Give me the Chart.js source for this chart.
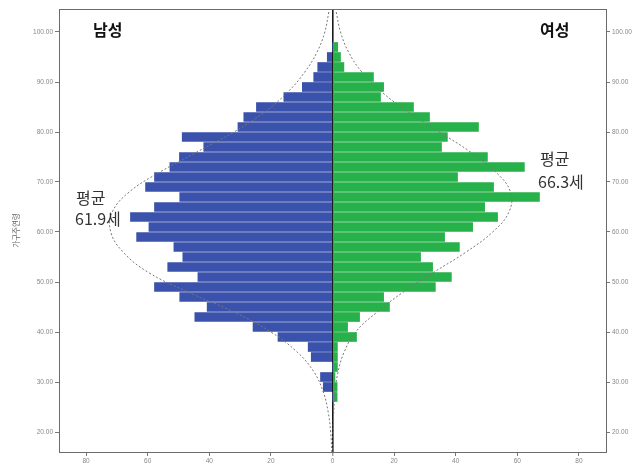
<!DOCTYPE html>
<html>
<head>
<meta charset="utf-8">
<script src="https://cdn.jsdelivr.net/npm/chart.js@4/dist/chart.umd.min.js"></script>
<style>
  html, body { margin: 0; padding: 0; background: #fff; }
</style>
</head>
<body>
<canvas id="pyramid" width="632" height="468"></canvas>
<script>
// 2-year age bins (bin centres), top to bottom
const ageBins = [97, 95, 93, 91, 89, 87, 85, 83, 81, 79, 77, 75, 73, 71, 69, 67, 65, 63,
  61, 59, 57, 55, 53, 51, 49, 47, 45, 43, 41, 39, 37, 35, 33, 31, 29, 27];
const maleCounts = [0, 1.7, 4.8, 6.1, 9.8, 15.8, 24.7, 28.8, 30.7, 48.8, 41.8, 49.7, 52.8, 57.8, 60.7, 49.6, 57.8, 65.6,
  59.6, 63.6, 51.5, 48.6, 53.5, 43.7, 57.8, 49.6, 40.7, 44.7, 25.8, 17.7, 7.9, 6.9, 0, 3.9, 3.0, 0];
const femaleCounts = [1.7, 2.6, 3.7, 13.3, 16.6, 15.6, 26.3, 31.5, 47.4, 37.3, 35.4, 50.3, 62.3, 40.6, 52.3, 67.2, 49.4, 53.6,
  45.5, 36.4, 41.2, 28.6, 32.5, 38.6, 33.4, 16.6, 18.5, 8.8, 4.9, 7.8, 1.6, 1.6, 1.6, 0.8, 1.5, 1.5];

// dotted normal curves
const curveAges = [104, 100, 96, 92, 88, 84, 80, 76, 72, 68, 64, 60, 56, 52, 48, 44, 40, 36, 32, 28, 24, 20, 16];
const maleCurve = [1.2, 2.5, 5, 9, 14.5, 22, 32, 44, 56, 66, 71.5, 72, 68, 60, 47, 32, 20, 11.5, 6, 3, 1.4, 0.6, 0.2];
const femaleCurve = [1.2, 2.6, 5.2, 9.5, 16, 24.6, 34.7, 44.8, 53, 57.8, 57.3, 52, 43.4, 33, 23, 14.5, 7.5, 3.8, 1.8, 0.8, 0.4, 0.15, 0.05];

const xTickValues = [-80, -60, -40, -20, 0, 20, 40, 60, 80];
const yTickValues = [20, 30, 40, 50, 60, 70, 80, 90, 100];

const sideLabels = ['남성', '여성'];
const maleMeanText = ['평균', '61.9세'];
const femaleMeanText = ['평균', '66.3세'];

const tickFont = { family: 'Liberation Sans', size: 6.5 };
const frameColor = '#6b6b6b';

const pyramidLabels = {
  id: 'pyramidLabels',
  afterDraw(chart) {
    const { ctx, chartArea } = chart;
    ctx.save();
    ctx.textBaseline = 'middle';
    ctx.fillStyle = '#111';
    ctx.font = 'bold 16px "Noto Sans CJK KR"';
    ctx.fillText(sideLabels[0], chartArea.left + 34, chartArea.top + 21);
    ctx.fillText(sideLabels[1], chartArea.right - 66, chartArea.top + 21);

    ctx.fillStyle = '#333';
    ctx.font = '16px "Noto Sans CJK KR"';
    ctx.fillText(maleMeanText[0], 76, 198);
    ctx.fillText(maleMeanText[1], 75, 219);
    ctx.fillText(femaleMeanText[0], 540, 159);
    ctx.fillText(femaleMeanText[1], 538, 182);
    ctx.restore();
  },
};

const ctx = document.getElementById('pyramid');

new Chart(ctx, {
  data: {
    datasets: [
      {
        type: 'line',
        label: 'male curve',
        data: curveAges.map((age, i) => ({ x: -maleCurve[i], y: age })),
        borderColor: '#777',
        borderWidth: 1,
        borderDash: [2, 2],
        pointRadius: 0,
        tension: 0.4,
        fill: false,
        order: 0,
      },
      {
        type: 'line',
        label: 'female curve',
        data: curveAges.map((age, i) => ({ x: femaleCurve[i], y: age })),
        borderColor: '#777',
        borderWidth: 1,
        borderDash: [2, 2],
        pointRadius: 0,
        tension: 0.4,
        fill: false,
        order: 0,
      },
      {
        type: 'bar',
        label: '남성',
        data: ageBins.map((age, i) => ({ x: -maleCounts[i], y: age })),
        backgroundColor: '#3b52ac',
        barThickness: 9,
        grouped: false,
        order: 1,
      },
      {
        type: 'bar',
        label: '여성',
        data: ageBins.map((age, i) => ({ x: femaleCounts[i], y: age })),
        backgroundColor: '#27b14a',
        barThickness: 9,
        grouped: false,
        order: 1,
      },
    ],
  },
  options: {
    indexAxis: 'y',
    responsive: false,
    animation: false,
    layout: { padding: { top: 9, left: 0, right: 0, bottom: 0 } },
    plugins: {
      legend: { display: false },
      tooltip: { enabled: false },
    },
    scales: {
      x: {
        type: 'linear',
        position: 'bottom',
        min: -88.8,
        max: 88.8,
        z: 1,
        afterBuildTicks: (scale) => { scale.ticks = xTickValues.map((v) => ({ value: v })); },
        afterFit: (scale) => { scale.height = 16; },
        ticks: {
          callback: (v) => Math.abs(v),
          font: tickFont,
          color: '#888',
          padding: 1,
          maxRotation: 0,
          autoSkip: false,
        },
        grid: {
          drawOnChartArea: true,
          color: (c) => (c.tick && c.tick.value === 0 ? '#1a1a1a' : 'rgba(0,0,0,0)'),
          lineWidth: (c) => (c.tick && c.tick.value === 0 ? 1.6 : 1),
          tickColor: '#777',
          tickLength: 4,
          tickWidth: 1,
        },
        border: { color: frameColor, width: 1 },
      },
      xTop: {
        type: 'linear',
        position: 'top',
        min: -88.8,
        max: 88.8,
        afterFit: (scale) => { scale.height = 0; },
        ticks: { display: false },
        grid: { display: false, drawTicks: false },
        border: { display: true, color: frameColor, width: 1 },
      },
      y: {
        type: 'linear',
        position: 'left',
        min: 16,
        max: 104.6,
        offset: false,
        afterBuildTicks: (scale) => { scale.ticks = yTickValues.map((v) => ({ value: v })); },
        afterFit: (scale) => { scale.width = 59; },
        ticks: {
          callback: (v) => v.toFixed(2),
          font: tickFont,
          color: '#888',
          padding: 2,
          autoSkip: false,
        },
        grid: { offset: false, drawOnChartArea: false, tickLength: 4, tickColor: '#777' },
        border: { color: frameColor, width: 1 },
        title: {
          display: true,
          text: '가구주연령',
          font: { family: 'Noto Sans CJK KR', size: 7.5 },
          color: '#666',
          padding: { top: 12, bottom: 0 },
        },
      },
      y2: {
        type: 'linear',
        position: 'right',
        min: 16,
        max: 104.6,
        offset: false,
        afterBuildTicks: (scale) => { scale.ticks = yTickValues.map((v) => ({ value: v })); },
        afterFit: (scale) => { scale.width = 26; },
        ticks: {
          callback: (v) => v.toFixed(2),
          font: tickFont,
          color: '#888',
          padding: 2,
          autoSkip: false,
        },
        grid: { offset: false, drawOnChartArea: false, tickLength: 4, tickColor: '#777' },
        border: { color: frameColor, width: 1 },
      },
    },
  },
  plugins: [pyramidLabels],
});
</script>
</body>
</html>
